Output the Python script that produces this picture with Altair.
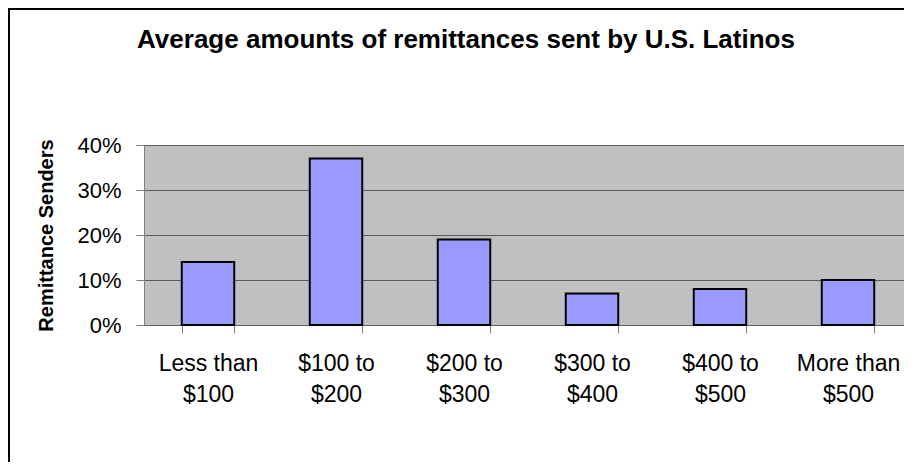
import altair as alt
import pandas as pd

categories = ["Less than $100", "$100 to $200", "$200 to $300", "$300 to $400", "$400 to $500", "More than $500"]
values = [14, 37, 19, 7, 8, 10]
y_ticks = [0, 10, 20, 30, 40]
chart_title = "Average amounts of remittances sent by U.S. Latinos"
y_title = "Remittance Senders"

FONT = "Liberation Sans"

df = pd.DataFrame({"category": categories, "value": values})
deco = pd.DataFrame({"a": [0]})

label_expr = ("[substring(datum.label, 0, lastindexof(datum.label, ' ')), "
              "substring(datum.label, lastindexof(datum.label, ' ') + 1)]")

bars = alt.Chart(df).mark_bar(color="#9999FF", stroke="#000000", strokeWidth=2).encode(
    x=alt.X("category:N", sort=categories,
            scale=alt.Scale(paddingInner=0.59, paddingOuter=0.295, range=[0, 768]),
            axis=alt.Axis(title=None, labelAngle=0, labelExpr=label_expr,
                          labelFont=FONT, labelFontSize=23, labelColor="#000000",
                          labelLineHeight=31, labelPadding=19, tickBand="extent",
                          tickSize=8, tickColor="#808080", domainColor="#606060",
                          grid=False)),
    y=alt.Y("value:Q", scale=alt.Scale(domain=[0, 40], nice=False),
            axis=alt.Axis(values=y_ticks, labelExpr="datum.value + '%'",
                          labelFont=FONT, labelFontSize=22, labelColor="#000000",
                          labelPadding=15, tickSize=8, tickColor="#808080",
                          domainColor="#808080", grid=True, gridColor="#5A5A5A",
                          gridWidth=1, title=y_title, titleFont=FONT,
                          titleFontSize=20, titleFontWeight="bold",
                          titleColor="#000000", titleX=-98, titleY=90,
                          titleAngle=270, titleAlign="center",
                          titleBaseline="middle")),
)

title_mark = alt.Chart(deco).mark_text(
    text=chart_title, font=FONT, fontSize=26, fontWeight="bold",
    color="#000000", align="center", baseline="alphabetic"
).encode(x=alt.value(322), y=alt.value(-97))

left_border = alt.Chart(deco).mark_rule(color="#000000", strokeWidth=2).encode(
    x=alt.value(-135), y=alt.value(-137), y2=alt.value(320))
top_border = alt.Chart(deco).mark_rule(color="#000000", strokeWidth=2).encode(
    y=alt.value(-136), x=alt.value(-136), x2=alt.value(770))

chart = alt.layer(bars, title_mark, left_border, top_border).properties(
    width=760, height=180,
    padding={"left": 136, "top": 137, "right": 0, "bottom": 137},
    autosize="none",
    background="#FFFFFF",
).configure_view(stroke=None, fill="#C0C0C0")

chart.save("out.html", embed_options={"renderer": "svg", "actions": False})
